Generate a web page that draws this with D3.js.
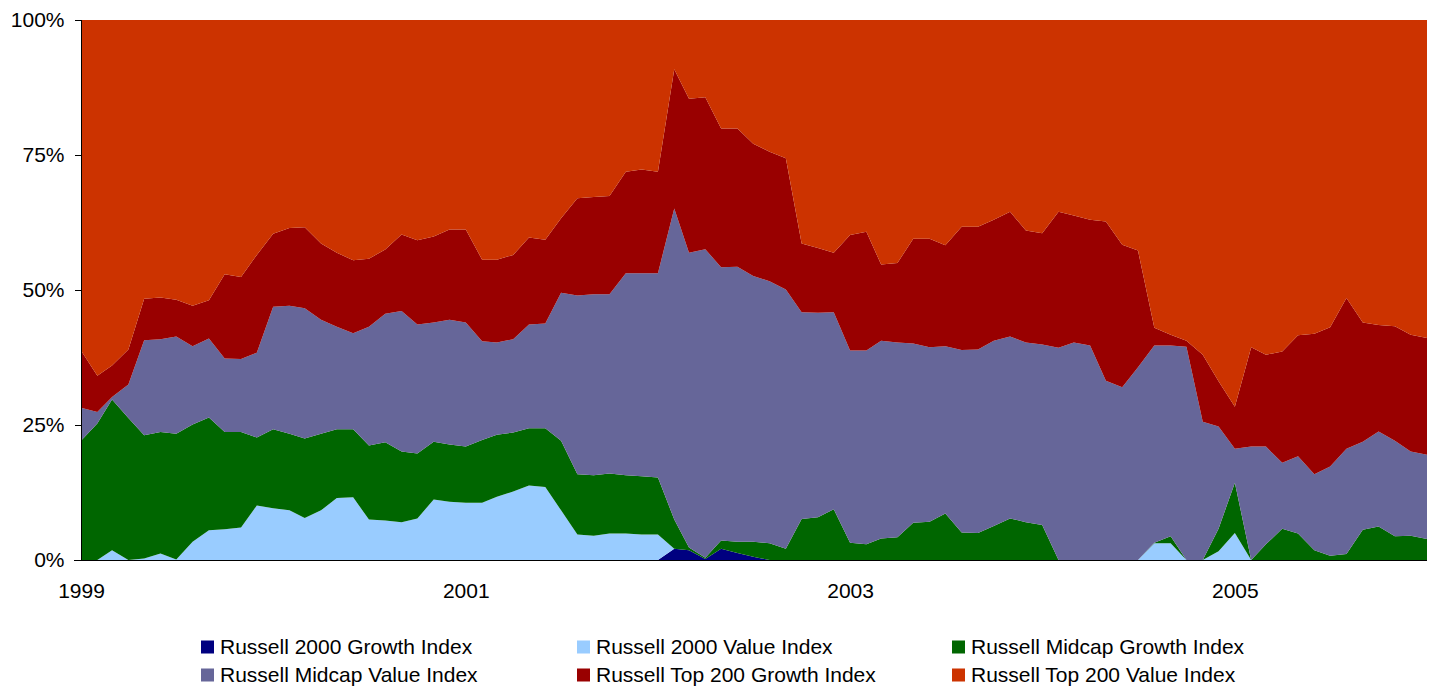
<!DOCTYPE html>
<html>
<head>
<meta charset="utf-8">
<script src="https://d3js.org/d3.v7.min.js"></script>
<style>
  body { margin: 0; background: #fff; }
  text { font-family: "Liberation Sans", Arial, sans-serif; fill: #000; }
</style>
</head>
<body>
<script>
// share of each index, monthly from Jan 1999 to Jan 2006 (in %)
var r2000Growth = [0,0,0,0,0,0,0,0,0,0,0,0,0,0,0,0,0,0,0,0,0,0,0,0,0,0,0,0,0,0,0,0,0,0,0,0,0,
  2.1,1.8,0.2,2.1,1.3,0.6,0,0,0,0,0,0,0,0,0,0,0,0,0,0,0,0,0,0,0,0,0,0,0,0,0,0,0,0,0,0,0,0,0,0,0,0,0,0,0,0,0,0];
var r2000Value = [0,0,1.8,0,0.3,1.2,0.1,3.4,5.5,5.7,6.0,10.1,9.6,9.2,7.8,9.2,11.5,11.6,7.5,7.3,7.0,7.7,11.2,10.8,10.6,
  10.6,11.7,12.7,13.8,13.5,9.2,4.7,4.5,4.9,4.9,4.7,4.7,0,0,0,0,0,0,0,0,0,0,0,0,0,0,0,0,0,0,0,0,0,0,0,0,0,0,0,0,0,0,
  3.1,3.1,0,0,1.6,5.0,0,0,0,0,0,0,0,0,0,0,0,0];
var midGrowth = [22.1,25.3,27.9,26.3,22.8,22.5,23.3,21.7,20.9,18.0,17.7,12.6,14.6,14.2,14.7,14.2,12.7,12.6,13.7,14.5,
  13.1,12.0,10.7,10.6,10.4,11.6,11.5,10.9,10.6,10.9,12.9,11.2,11.2,11.1,10.8,10.8,10.6,5.4,0.5,0.2,1.5,2.1,2.8,3.1,2.1,
  7.6,7.9,9.4,3.2,2.9,4.0,4.2,6.9,7.1,8.6,5.1,5.0,6.3,7.7,7.0,6.5,0,0,0,0,0,0,0.1,1.3,0,0,4.2,9.3,0,2.9,5.8,4.9,1.8,
  0.8,1.1,5.6,6.2,4.4,4.5,3.9];
var midValue = [6.1,2.1,0.5,6.2,17.6,17.2,18.0,14.5,14.6,13.6,13.5,15.7,22.7,23.7,24.1,21.1,19.0,17.8,22.0,23.8,26.0,
  23.9,22.1,23.1,23.0,18.3,17.1,17.3,19.2,19.4,27.4,33.1,33.5,33.2,37.4,37.6,37.8,57.6,54.6,57.2,50.6,50.9,49.2,48.5,
  48.0,38.3,37.9,36.5,35.6,35.9,36.6,36.1,33.2,32.3,31.0,33.8,34.0,34.3,33.7,33.3,33.4,39.3,40.3,39.7,33.2,32.0,35.7,
  36.5,35.3,39.5,25.6,18.9,6.3,21.0,18.1,12.2,14.3,14.1,16.5,19.5,16.3,17.6,17.7,15.6,15.6];
var top200Growth = [10.6,6.7,5.8,6.5,7.7,7.7,6.8,7.5,7.1,15.6,15.2,18.1,13.5,14.4,15.0,14.1,13.7,13.5,12.6,11.9,14.2,
  15.6,15.9,16.7,17.2,15.1,15.3,15.6,16.1,15.5,13.8,18.0,18.0,18.2,18.8,19.2,18.8,25.8,28.5,28.2,25.7,25.6,24.5,24.0,
  24.3,12.7,12.0,11.0,21.4,22.0,14.1,14.7,19.4,20.1,18.7,22.8,22.7,22.4,23.1,20.7,20.6,25.2,23.5,23.3,29.5,26.4,21.6,
  3.3,2.0,1.1,12.4,8.4,7.8,18.4,17.0,20.6,22.4,26.0,25.8,27.9,22.1,19.7,21.2,21.6,21.6];
var top200Value = [61.2,65.9,64.0,61.0,51.6,51.4,51.8,52.9,51.9,47.1,47.6,43.5,39.6,38.5,38.4,41.4,43.1,44.5,44.2,42.5,
  39.7,40.8,40.1,38.8,38.8,44.4,44.4,43.5,40.3,40.7,36.7,33.0,32.8,32.6,28.1,27.7,28.1,9.1,14.6,14.3,20.1,20.1,22.9,
  24.4,25.6,41.4,42.2,43.1,39.8,39.2,45.3,45.0,40.5,40.5,41.7,38.3,38.3,37.0,35.5,39.0,39.5,35.5,36.2,37.0,37.3,41.6,
  42.7,57.0,58.3,59.4,62.0,66.9,71.6,60.6,62.0,61.4,58.4,58.1,56.9,51.5,56.0,56.5,56.7,58.3,58.9];

var seriesNames = ["Russell 2000 Growth Index", "Russell 2000 Value Index", "Russell Midcap Growth Index",
  "Russell Midcap Value Index", "Russell Top 200 Growth Index", "Russell Top 200 Value Index"];
var seriesColors = ["#000080", "#99ccff", "#006600", "#666699", "#990000", "#cc3300"];
var yearTicks = ["1999", "2001", "2003", "2005"];

var months = d3.timeMonth.range(new Date(1999, 0, 1), new Date(2006, 1, 1));
var allSeries = [r2000Growth, r2000Value, midGrowth, midValue, top200Growth, top200Value];

// one row per month, keyed by series index
var rows = months.map(function(m, i) {
  var row = {date: m};
  allSeries.forEach(function(s, k) { row[k] = s[i]; });
  return row;
});

var width = 1431, height = 686;
var plot = {left: 81, right: 1427, top: 20, bottom: 560};

var svg = d3.select("body").append("svg")
  .attr("width", width)
  .attr("height", height);

var x = d3.scaleTime()
  .domain([months[0], months[months.length - 1]])
  .range([plot.left, plot.right]);

var y = d3.scaleLinear()
  .domain([0, 1])
  .range([plot.bottom, plot.top]);

// 100% stacked, first series at the bottom
var stacked = d3.stack()
  .keys(d3.range(allSeries.length))
  .offset(d3.stackOffsetExpand)(rows);

var area = d3.area()
  .x(function(d) { return x(d.data.date); })
  .y0(function(d) { return y(d[0]); })
  .y1(function(d) { return y(d[1]); });

svg.append("g")
  .selectAll("path")
  .data(stacked)
  .enter()
  .append("path")
    .attr("d", area)
    .attr("fill", function(d) { return seriesColors[d.key]; });

// y axis
var yAxis = svg.append("g")
  .attr("transform", "translate(" + (plot.left - 0.5) + ",0)")
  .call(d3.axisLeft(y).tickValues([0, 0.25, 0.5, 0.75, 1]).tickFormat(d3.format(".0%")).tickSize(6).tickPadding(10));
yAxis.selectAll("line, path").attr("stroke", "#000").attr("shape-rendering", "crispEdges");
yAxis.selectAll("text").style("font-size", "21px");

// x axis, labels only
var xAxis = svg.append("g")
  .attr("transform", "translate(0," + (plot.bottom + 0.5) + ")")
  .call(d3.axisBottom(x)
    .tickValues(yearTicks.map(function(t) { return new Date(+t, 0, 1); }))
    .tickFormat(d3.timeFormat("%Y"))
    .tickSize(0)
    .tickPadding(23)
    .tickSizeOuter(0));
xAxis.select(".domain").attr("stroke", "#000").attr("shape-rendering", "crispEdges")
  .attr("d", "M" + (plot.left - 7) + ",0H" + plot.right);
xAxis.selectAll("text").style("font-size", "21px");

// legend, 3 columns by 2 rows
var legendCols = [201, 577, 952];
var legendRows = [647, 675];
var legend = svg.append("g")
  .selectAll("g")
  .data(seriesNames)
  .enter()
  .append("g")
    .attr("transform", function(d, i) {
      return "translate(" + legendCols[i % 3] + "," + legendRows[Math.floor(i / 3)] + ")";
    });

legend.append("rect")
  .attr("x", 0)
  .attr("y", -6.5)
  .attr("width", 13)
  .attr("height", 13)
  .attr("fill", function(d, i) { return seriesColors[i]; });

legend.append("text")
  .attr("x", 19)
  .attr("dy", "0.35em")
  .style("font-size", "21px")
  .text(function(d) { return d; });
</script>
</body>
</html>
